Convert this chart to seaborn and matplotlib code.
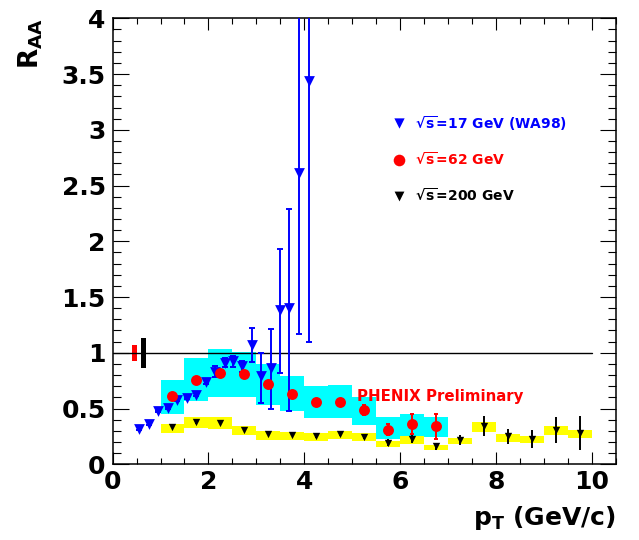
import matplotlib
matplotlib.use('Agg')
import matplotlib.pyplot as plt
from matplotlib.ticker import MultipleLocator, FormatStrFormatter
import seaborn as sns

#%% data

# sqrt(s)=17 GeV (WA98)
wa98_pt = [0.56, 0.75, 0.95, 1.15, 1.35, 1.55, 1.74, 1.95, 2.14, 2.35,
           2.51, 2.70, 2.90, 3.10, 3.30, 3.49, 3.69, 3.90, 4.10]
wa98_raa = [0.32, 0.365, 0.475, 0.505, 0.58, 0.595, 0.625, 0.74, 0.83, 0.91,
            0.925, 0.88, 1.07, 0.79, 0.86, 1.38, 1.40, 2.61, 3.44]
wa98_err_lo = [0.01, 0.01, 0.01, 0.01, 0.01, 0.01, 0.01, 0.02, 0.05, 0.04,
               0.05, 0.05, 0.15, 0.24, 0.36, 0.56, 0.92, 1.44, 2.34]
wa98_err_hi = [0.01, 0.01, 0.01, 0.01, 0.01, 0.01, 0.01, 0.02, 0.05, 0.04,
               0.05, 0.05, 0.15, 0.21, 0.35, 0.55, 0.89, 2.0, 1.5]

# sqrt(s)=62 GeV
r62_pt = [1.25, 1.75, 2.25, 2.75, 3.25, 3.75, 4.25, 4.75, 5.25, 5.75, 6.25, 6.75]
r62_raa = [0.61, 0.76, 0.82, 0.81, 0.72, 0.63, 0.56, 0.56, 0.485, 0.31, 0.36, 0.34]
r62_err = [0.02, 0.02, 0.02, 0.02, 0.02, 0.02, 0.02, 0.03, 0.045, 0.05, 0.09, 0.11]
r62_sys_lo = [0.455, 0.57, 0.605, 0.60, 0.535, 0.475, 0.415, 0.415, 0.35, 0.23, 0.245, 0.245]
r62_sys_hi = [0.76, 0.95, 1.03, 1.01, 0.90, 0.79, 0.70, 0.71, 0.60, 0.42, 0.455, 0.42]

# sqrt(s)=200 GeV
b200_pt = [1.25, 1.75, 2.25, 2.75, 3.25, 3.75, 4.25, 4.75, 5.25,
           5.75, 6.25, 6.75, 7.25, 7.75, 8.25, 8.75, 9.25, 9.75]
b200_raa = [0.335, 0.375, 0.37, 0.31, 0.27, 0.26, 0.255, 0.275, 0.245,
            0.195, 0.23, 0.16, 0.22, 0.34, 0.25, 0.23, 0.31, 0.28]
b200_err = [0.01, 0.01, 0.01, 0.01, 0.01, 0.01, 0.015, 0.02, 0.02,
            0.03, 0.04, 0.03, 0.045, 0.09, 0.07, 0.08, 0.115, 0.15]
b200_sys_lo = [0.28, 0.325, 0.32, 0.26, 0.22, 0.22, 0.21, 0.225, 0.21,
               0.155, 0.185, 0.13, 0.185, 0.29, 0.20, 0.19, 0.26, 0.24]
b200_sys_hi = [0.365, 0.425, 0.425, 0.345, 0.295, 0.29, 0.283, 0.30, 0.28,
               0.21, 0.25, 0.17, 0.24, 0.375, 0.27, 0.25, 0.34, 0.31]

# normalisation uncertainty bars near R_AA = 1
norm_pt = [0.45, 0.64]
norm_lo = [0.93, 0.865]
norm_hi = [1.07, 1.13]
norm_colors = ['red', 'black']

legend_labels = [r'$\sqrt{s}$=17 GeV (WA98)', r'$\sqrt{s}$=62 GeV', r'$\sqrt{s}$=200 GeV']
legend_y = [3.06, 2.73, 2.41]

#%% style

sns.set_style('ticks')
plt.rcParams['font.family'] = ['DejaVu Sans']
plt.rcParams['font.weight'] = 'bold'
plt.rcParams['mathtext.fontset'] = 'dejavusans'
plt.rcParams['mathtext.default'] = 'bf'
plt.rcParams['text.color'] = 'black'
plt.rcParams['axes.labelcolor'] = 'black'
plt.rcParams['xtick.color'] = 'black'
plt.rcParams['ytick.color'] = 'black'

fig = plt.figure(figsize=(6.39, 5.40), dpi=100)
ax = fig.add_axes([0.1762, 0.1402, 0.7873, 0.8259])

#%% systematic boxes
ax.bar(r62_pt, [h - l for h, l in zip(r62_sys_hi, r62_sys_lo)], bottom=r62_sys_lo,
       width=0.5, color='#00ffff', linewidth=0, zorder=1)
ax.bar(b200_pt, [h - l for h, l in zip(b200_sys_hi, b200_sys_lo)], bottom=b200_sys_lo,
       width=0.5, color='#ffff00', linewidth=0, zorder=1)
ax.bar(norm_pt, [h - l for h, l in zip(norm_hi, norm_lo)], bottom=norm_lo,
       width=0.1, color=norm_colors, linewidth=0, zorder=2)

ax.plot([0, 10], [1, 1], color='black', lw=1.0, zorder=2)

#%% points with stat errors
ax.errorbar(wa98_pt, wa98_raa, yerr=[wa98_err_lo, wa98_err_hi], fmt='none',
            ecolor='#0000ff', elinewidth=1.4, capsize=2, capthick=1.4, zorder=3)
sns.scatterplot(x=wa98_pt, y=wa98_raa, marker='v', s=60, color='#0000ff',
                linewidth=0, ax=ax, zorder=4)

ax.errorbar(b200_pt, b200_raa, yerr=b200_err, fmt='none',
            ecolor='black', elinewidth=1.4, capsize=0, zorder=3)
sns.scatterplot(x=b200_pt, y=b200_raa, marker='v', s=28, color='black',
                linewidth=0, ax=ax, zorder=4)

ax.errorbar(r62_pt, r62_raa, yerr=r62_err, fmt='none',
            ecolor='red', elinewidth=1.4, capsize=1.5, capthick=1.4, zorder=5)
sns.scatterplot(x=r62_pt, y=r62_raa, marker='o', s=62, color='red',
                linewidth=0, ax=ax, zorder=6)

#%% legend drawn by hand
leg_colors = ['#0000ff', 'red', 'black']
leg_markers = ['v', 'o', 'v']
leg_sizes = [55, 70, 50]
for lab, yy, c, m, s in zip(legend_labels, legend_y, leg_colors, leg_markers, leg_sizes):
    ax.scatter([5.98], [yy], marker=m, s=s, color=c, linewidths=0, zorder=6)
    ax.text(6.31, yy, lab, color=c, fontsize=10, fontweight='bold', va='center', ha='left')

ax.text(5.10, 0.567, 'PHENIX Preliminary', color='red', fontsize=10.8,
        fontweight='bold', va='baseline', ha='left')

#%% axes
ax.set_xlim(0, 10.5)
ax.set_ylim(0, 4)
ax.xaxis.set_major_locator(MultipleLocator(2))
ax.xaxis.set_minor_locator(MultipleLocator(0.5))
ax.yaxis.set_major_locator(MultipleLocator(0.5))
ax.yaxis.set_minor_locator(MultipleLocator(0.1))
ax.yaxis.set_major_formatter(FormatStrFormatter('%g'))
ax.xaxis.set_major_formatter(FormatStrFormatter('%g'))

ax.tick_params(which='both', direction='in', top=True, right=True, width=0.8,
               color='black', labelcolor='black', labelsize=18)
ax.tick_params(axis='x', which='major', length=8.6, pad=4)
ax.tick_params(axis='x', which='minor', length=4.3)
ax.tick_params(axis='y', which='major', length=11.5, pad=5)
ax.tick_params(axis='y', which='minor', length=5.5)
for t in ax.get_xticklabels() + ax.get_yticklabels():
    t.set_fontweight('bold')
for sp in ax.spines.values():
    sp.set_linewidth(1.1)
    sp.set_color('black')

ax.set_xlabel('p$_{T}$ (GeV/c)', fontsize=18, fontweight='bold', loc='right', color='black')
ax.xaxis.set_label_coords(1.0, -0.09)
ax.xaxis.label.set_va('top')
ax.set_ylabel('R$_{AA}$', fontsize=19, fontweight='bold', loc='top', color='black')
ax.yaxis.set_label_coords(-0.135, 1.0)

fig.savefig('out.png', dpi=100)
